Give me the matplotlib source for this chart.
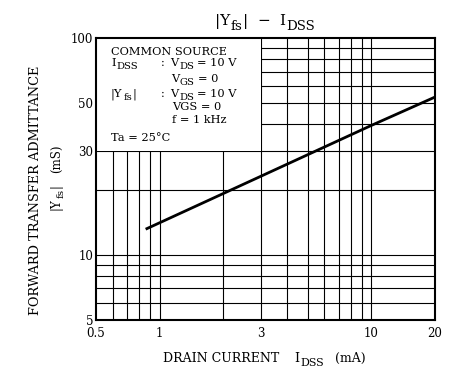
import matplotlib
matplotlib.use("Agg")
import matplotlib.pyplot as plt
from matplotlib.patches import Rectangle

plt.rcParams['font.family'] = ['DejaVu Serif']

# curve (straight line on log-log axes)
idss = [0.87, 3, 10, 20]
yfs = [13.2, 23, 39.5, 53.4]

x_ticks = [0.5, 1, 3, 10, 20]
x_labels = ['0.5', '1', '3', '10', '20']
y_ticks = [5, 10, 30, 50, 100]
y_labels = ['5', '10', '30', '50', '100']

x_grid = [0.6, 0.7, 0.8, 0.9, 1, 2, 3, 4, 5, 6, 7, 8, 9, 10]
y_grid = [6, 7, 8, 9, 10, 20, 30, 40, 50, 60, 70, 80, 90]

W, H = 468, 379
fig = plt.figure(figsize=(W / 100, H / 100), dpi=100)
ax = fig.add_axes([96 / W, 1 - 320 / H, 339 / W, 282 / H])
ax.set_xscale('log')
ax.set_yscale('log')
ax.set_xlim(0.5, 20)
ax.set_ylim(5, 100)

for gx in x_grid:
    ax.axvline(gx, color='black', lw=0.8, zorder=1)
for gy in y_grid:
    ax.axhline(gy, color='black', lw=0.8, zorder=1)

# white area behind the conditions text
ax.add_patch(Rectangle((0.5, 30), 2.5, 70, facecolor='white', edgecolor='none', zorder=2))

ax.plot(idss, yfs, color='black', lw=2, zorder=3)

ax.set_xticks(x_ticks)
ax.set_xticklabels(x_labels)
ax.set_yticks(y_ticks)
ax.set_yticklabels(y_labels)
ax.minorticks_off()
ax.tick_params(length=0, labelsize=8.5)
ax.tick_params(axis='x', pad=5)
ax.tick_params(axis='y', pad=2)
for s in ax.spines.values():
    s.set_linewidth(1.5)

renderer = fig.canvas.get_renderer()


def rich(parts, px, py, size, rot=0, center=False):
    """parts: str = normal, ('s', str) = subscript, number = gap in px.
    (px, py) = baseline start in pixels from the top-left."""
    arts = []
    pos = 0.0
    for p in parts:
        if isinstance(p, (int, float)):
            pos += p
            continue
        sub = isinstance(p, tuple)
        txt = p[1] if sub else p
        fsz = size * 0.88 if sub else size
        drop = size * 0.42 if sub else 0.0
        t = fig.text(0, 0, txt, fontsize=fsz, rotation=rot,
                     rotation_mode='anchor', ha='left', va='baseline')
        bb = t.get_window_extent(renderer)
        w = bb.width if rot == 0 else bb.height
        arts.append((t, pos, drop))
        pos += w + 0.7
    shift = -pos / 2 if center else 0.0
    for t, p, drop in arts:
        if rot == 0:
            t.set_position(((px + p + shift) / W, (H - py - drop) / H))
        else:
            t.set_position(((px + drop) / W, (H - (py - p - shift)) / H))


fs = 8.2
rich(['COMMON SOURCE'], 111, 55, fs)
rich(['I', ('s', 'DSS')], 111, 66, fs)
rich([':'], 161, 66, fs)
rich(['V', ('s', 'DS'), 2, '= 10 V'], 170, 66, fs)
rich(['V', ('s', 'GS'), 2, '= 0'], 171, 82, fs)
rich(['|Y', ('s', 'fs'), '|'], 111, 97, fs)
rich([':'], 161, 97, fs)
rich(['V', ('s', 'DS'), 2, '= 10 V'], 170, 97, fs)
rich(['VGS = 0'], 172, 110, fs)
rich(['f = 1 kHz'], 172, 123, fs)
rich(['Ta = 25°C'], 111, 141, fs)

# title
rich(['|Y', ('s', 'fs'), '|', 9, '\u2212', 8, 'I', ('s', 'DSS')], 265, 25, 11, center=True)
# x label
rich(['DRAIN CURRENT', 14, 'I', ('s', 'DSS'), 11, '(mA)'], 265, 362, 9, center=True)
# y label
fig.text(36 / W, 1 - 190 / H, 'FORWARD TRANSFER ADMITTANCE',
         fontsize=9.3, ha='center', va='center', rotation=90)
rich(['|Y', ('s', 'fs'), '|', 10, '(mS)'], 60, 177, 8.5, rot=90, center=True)

fig.savefig('out.png', dpi=100)
